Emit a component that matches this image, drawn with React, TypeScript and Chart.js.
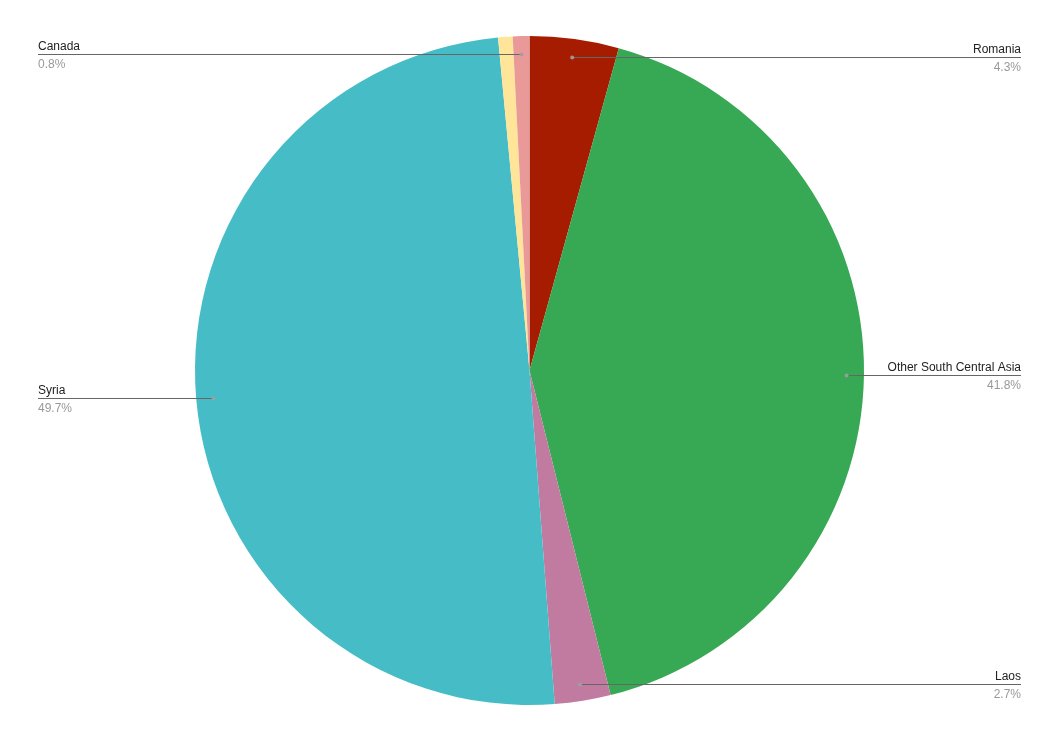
import React, { useEffect, useRef } from "react";
import { Chart, registerables } from "chart.js";

Chart.register(...registerables);

const categories = ["Romania", "Other South Central Asia", "Laos", "Syria", "Other", "Canada"];
const shares = [4.3, 41.8, 2.7, 49.7, 0.7, 0.8];
const sliceColors = ["#a61c00", "#37a853", "#c27ba0", "#46bdc6", "#ffe599", "#ea9999"];
const labeledSlices = [true, true, true, true, false, true];

const leaderPlugin = {
  id: "leaderLabels",
  afterDatasetsDraw(chart: any) {
    const ctx = chart.ctx;
    const meta = chart.getDatasetMeta(0);
    const W = chart.width;
    const leftX = 38;
    const rightX = W - 38;
    meta.data.forEach((arc: any, i: number) => {
      if (!labeledSlices[i]) return;
      const p = arc.getProps(["x", "y", "startAngle", "endAngle", "outerRadius"], true);
      const mid = (p.startAngle + p.endAngle) / 2;
      const r = p.outerRadius * 0.948;
      const dx = p.x + Math.cos(mid) * r;
      const dy = Math.floor(p.y + Math.sin(mid) * r) + 1.5;
      const onRight = Math.cos(mid) >= 0;
      const endX = onRight ? rightX : leftX;
      ctx.save();
      ctx.strokeStyle = "#666666";
      ctx.lineWidth = 1;
      ctx.beginPath();
      ctx.moveTo(dx, dy);
      ctx.lineTo(endX, dy);
      ctx.stroke();
      ctx.fillStyle = "rgba(160,160,160,0.9)";
      ctx.beginPath();
      ctx.arc(dx, dy, 2, 0, Math.PI * 2);
      ctx.fill();
      ctx.font = "12px Arial, 'Liberation Sans', sans-serif";
      ctx.textAlign = onRight ? "right" : "left";
      ctx.textBaseline = "alphabetic";
      ctx.fillStyle = "#222222";
      ctx.fillText(categories[i], endX, dy - 5);
      ctx.fillStyle = "#999999";
      ctx.fillText(shares[i].toFixed(1) + "%", endX, dy + 13);
      ctx.restore();
    });
  },
};

export default function App() {
  const canvasRef = useRef<HTMLCanvasElement | null>(null);

  useEffect(() => {
    document.body.style.margin = "0";
    const canvas = canvasRef.current;
    if (!canvas) return;
    const chart = new Chart(canvas, {
      type: "pie",
      data: {
        labels: categories,
        datasets: [
          {
            data: shares,
            backgroundColor: sliceColors,
            borderWidth: 0,
          },
        ],
      },
      options: {
        responsive: false,
        maintainAspectRatio: false,
        animation: false,
        layout: { padding: { top: 36, bottom: 38, left: 0, right: 0 } },
        plugins: {
          legend: { display: false },
          tooltip: { enabled: false },
        },
      },
      plugins: [leaderPlugin],
    });
    return () => chart.destroy();
  }, []);

  return (
    <div style={{ width: 1059, height: 743, background: "#ffffff" }}>
      <canvas ref={canvasRef} width={1059} height={743} />
    </div>
  );
}
